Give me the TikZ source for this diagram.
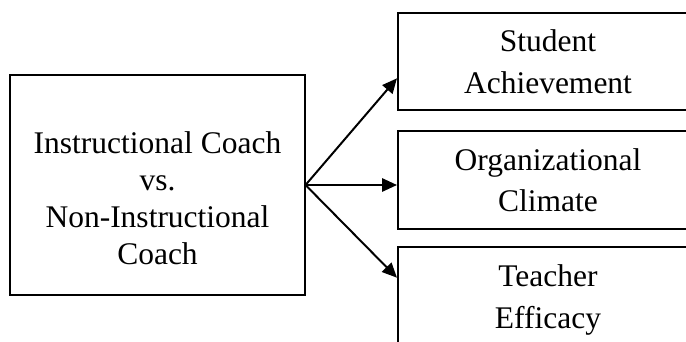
\documentclass[tikz,border=0pt]{standalone}
\usepackage{fontspec}
\setmainfont{Liberation Serif}
\usetikzlibrary{arrows.meta,calc}
\tikzset{
	box/.style={draw,line width=1.4pt,align=center,inner sep=0pt},
	arr/.style={line width=1.4pt,-{Triangle[length=0.37cm,width=0.33cm]}}
}
\begin{document}
\begin{tikzpicture}[x=0.025cm,y=-0.025cm]
	\useasboundingbox (0,0) rectangle (686,342);
	\clip (0,0) rectangle (686,342);
	% coach
	\node[box,minimum width=7.35cm,minimum height=5.5cm,font=\fontsize{22.4}{26.4}\selectfont] (coach) at (157.5,185) {\rule{0pt}{34pt}Instructional Coach\\vs.\\Non-Instructional\\Coach};
	% outcomes
	\node[box,minimum width=7.5cm,minimum height=2.425cm,font=\fontsize{22.4}{29.5}\selectfont] (student) at (548,61.5) {Student\\Achievement};
	\node[box,minimum width=7.5cm,minimum height=2.45cm,font=\fontsize{22.4}{29.5}\selectfont] (climate) at (548,180) {Organizational\\Climate};
	\node[box,minimum width=7.5cm,minimum height=2.425cm,font=\fontsize{22.4}{29.5}\selectfont] (efficacy) at (548,295.5) {\rule{0pt}{22pt}Teacher\\Efficacy};
	% arrows
	\draw[arr] (coach.east) -- ($(student.south west)!.33!(student.north west)$);
	\draw[arr] (coach.east) -- ($(climate.south west)!.45!(climate.north west)$);
	\draw[arr] (coach.east) -- ($(efficacy.south west)!.68!(efficacy.north west)$);
\end{tikzpicture}
\end{document}
